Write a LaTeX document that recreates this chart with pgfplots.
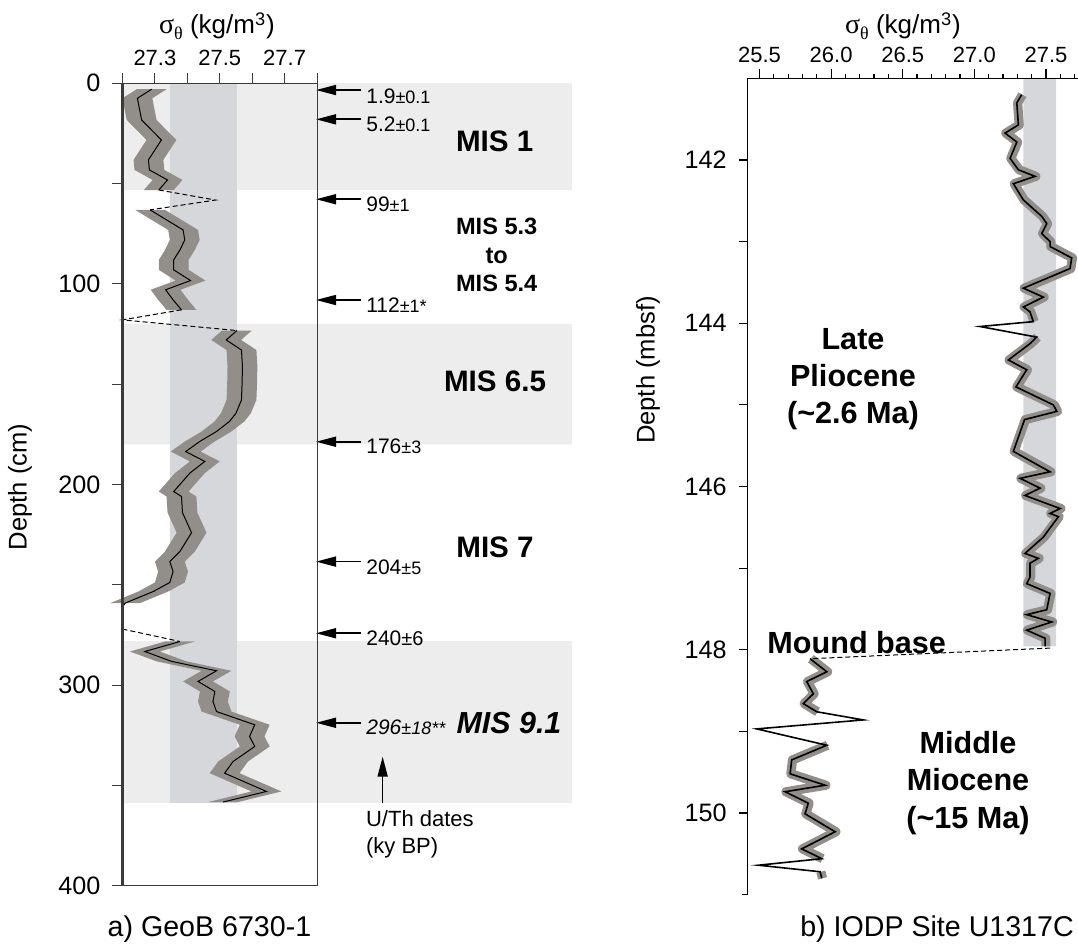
\documentclass[border=0pt]{standalone}
\usepackage{pgfplots}
\usepackage{pgfplotstable}
\pgfplotsset{compat=1.18}
\usepgfplotslibrary{fillbetween}
\usetikzlibrary{arrows.meta}
\usepackage{fontspec}
\setmainfont{Liberation Sans}
\newfontfamily\grk{Liberation Serif}

\definecolor{misgray}{HTML}{EDEDED}
\definecolor{bandblue}{HTML}{D5D7DB}
\definecolor{envgray}{HTML}{928E89}
\definecolor{framec}{HTML}{3A3A3A}

\newcommand{\fs}[1]{\fontsize{#1}{#1}\selectfont}
\newcommand{\fsl}[2]{\fontsize{#1}{#2}\selectfont}
\newcommand{\sigtitle}{{\grk\fs{14}σ}\raisebox{-0.4ex}{\grk\fs{9}θ} (kg/m\textsuperscript{3})}
\newcommand{\unc}[1]{{\fs{9}±#1}}

% GeoB 6730-1: potential density (sigma) against core depth (cm)
\pgfplotstableread{
s      d
27.290 3.1
27.246 7.6
27.259 18.4
27.320 28.4
27.280 38.3
27.283 43.3
27.339 48.3
27.312 53.3
}\segA
\pgfplotstableread{
s      d
27.285 63.2
27.336 68.2
27.387 73.2
27.392 78.2
27.377 83.2
27.358 88.1
27.358 93.1
27.410 98.4
27.333 103.0
27.356 108.0
27.382 113.0
}\segB
\pgfplotstableread{
s      d
27.553 123.3
27.520 128.0
27.567 133.0
27.570 141.0
27.569 149.5
27.567 157.9
27.550 164.5
27.530 168.6
27.490 173.6
27.438 178.6
27.395 183.6
27.454 188.5
27.408 194.3
27.358 203.5
27.382 206.0
27.385 214.0
27.413 224.0
27.377 233.4
27.346 238.4
27.356 243.4
27.346 248.8
27.295 253.3
27.208 259.1
}\segC
\pgfplotstableread{
s      d
27.377 278.2
27.269 283.2
27.351 288.1
27.490 292.8
27.433 298.1
27.485 303.1
27.479 308.1
27.490 313.1
27.608 319.7
27.592 325.5
27.608 330.5
27.541 338.0
27.515 343.8
27.644 352.9
27.510 358.2
}\segD

% IODP U1317C: sigma against depth (mbsf); e = 1 where the envelope is drawn
\pgfplotstableread{
s      d      e
27.330 141.20 1
27.296 141.30 1
27.307 141.57 1
27.214 141.67 1
27.296 141.78 1
27.249 141.98 1
27.307 142.12 1
27.423 142.20 1
27.272 142.29 1
27.342 142.49 1
27.470 142.69 1
27.505 142.78 1
27.470 142.90 1
27.528 143.00 1
27.528 143.06 1
27.679 143.20 1
27.667 143.33 1
27.505 143.45 1
27.342 143.57 1
27.481 143.68 1
27.342 143.80 1
27.388 143.86 1
27.411 143.98 1
27.039 144.04 0
27.435 144.17 1
27.388 144.25 1
27.237 144.45 1
27.365 144.57 1
27.290 144.78 1
27.551 145.00 1
27.575 145.08 1
27.350 145.18 1
27.272 145.57 1
27.528 145.82 1
27.319 145.90 1
27.458 146.02 1
27.353 146.11 1
27.598 146.27 1
27.528 146.33 1
27.586 146.37 1
27.481 146.62 1
27.353 146.82 1
27.446 146.88 1
27.388 146.94 1
27.388 147.11 1
27.365 147.19 1
27.528 147.31 1
27.505 147.51 1
27.365 147.57 1
27.540 147.66 1
27.365 147.76 1
27.493 147.86 1
27.493 147.96 1
}\rtUp
\pgfplotstableread{
s      d      e
25.853 148.11 1
25.970 148.27 1
25.830 148.39 1
25.876 148.54 1
25.806 148.66 1
25.900 148.76 1
26.225 148.86 0
25.481 148.97 0
25.970 149.17 1
25.725 149.35 1
25.714 149.52 1
25.958 149.66 1
25.679 149.74 1
25.841 149.88 1
25.818 150.01 1
26.028 150.23 1
25.795 150.44 1
25.935 150.56 1
25.493 150.64 0
25.923 150.72 1
25.935 150.80 1
}\rtLo

\pgfplotsset{
  /pgf/number format/assume math mode=true,
  depthaxis/.style={
    scale only axis, anchor=south west, y dir=reverse,
    clip=false, set layers, axis on top,
    tick align=outside,
  },
}
\tikzset{
  datenum/.style={anchor=west, inner sep=0pt, font=\fs{10.5}},
  datearrow/.style={-{Triangle[length=10pt,width=5pt]}, line width=0.85pt, black},
}

\begin{document}
\begin{tikzpicture}

% ---------- a) GeoB 6730-1 ----------
\begin{axis}[depthaxis,
  at={(61.25pt,31.5pt)}, width=97.25pt, height=401.5pt,
  xmin=27.2, xmax=27.8, ymin=0, ymax=400,
  axis line style={framec, line width=0.5pt},
  tick style={framec, line width=0.5pt},
  major tick length=5pt, minor tick length=5pt,
  xtick pos=upper, xticklabel pos=upper, ytick pos=left,
  xtick={27.3,27.5,27.7}, xticklabels={27.3,27.5,27.7},
  minor xtick={27.2,27.4,27.6,27.8},
  ytick={0,50,100,150,200,250,300,350,400},
  yticklabels={0,,100,,200,,300,,400},
  xticklabel style={font=\fs{11}},
  yticklabel style={font=\fs{12.6}, xshift=-2.5pt},
]
% marine isotope stage bands
\addplot[on layer=axis background, fill=misgray, draw=none]
  coordinates {(27.2,0) (28.586,0) (28.586,53.3) (27.2,53.3) (27.2,0)};
\addplot[on layer=axis background, fill=misgray, draw=none]
  coordinates {(27.2,120) (28.586,120) (28.586,180) (27.2,180) (27.2,120)};
\addplot[on layer=axis background, fill=misgray, draw=none]
  coordinates {(27.2,278) (28.586,278) (28.586,358.6) (27.2,358.6) (27.2,278)};
% present-day density range
\addplot[on layer=axis background, fill=bandblue, draw=none]
  coordinates {(27.346,0) (27.553,0) (27.553,358.6) (27.346,358.6) (27.346,0)};

% uncertainty envelopes
\addplot[draw=none, name path=a1] table[x expr=\thisrow{s}-0.046, y=d] {\segA};
\addplot[draw=none, name path=b1] table[x expr=\thisrow{s}+0.046, y=d] {\segA};
\addplot[fill=envgray, draw=none] fill between[of=a1 and b1];
\addplot[draw=none, name path=a2] table[x expr=\thisrow{s}-0.046, y=d] {\segB};
\addplot[draw=none, name path=b2] table[x expr=\thisrow{s}+0.046, y=d] {\segB};
\addplot[fill=envgray, draw=none] fill between[of=a2 and b2];
\addplot[draw=none, name path=a3] table[x expr=\thisrow{s}-0.046, y=d] {\segC};
\addplot[draw=none, name path=b3] table[x expr=\thisrow{s}+0.046, y=d] {\segC};
\addplot[fill=envgray, draw=none] fill between[of=a3 and b3];
\addplot[draw=none, name path=a4] table[x expr=\thisrow{s}-0.046, y=d] {\segD};
\addplot[draw=none, name path=b4] table[x expr=\thisrow{s}+0.046, y=d] {\segD};
\addplot[fill=envgray, draw=none] fill between[of=a4 and b4];

% sigma profile
\addplot[black, line width=0.5pt] table[x=s, y=d] {\segA};
\addplot[black, line width=0.5pt] table[x=s, y=d] {\segB};
\addplot[black, line width=0.5pt] table[x=s, y=d] {\segC};
\addplot[black, line width=0.5pt] table[x=s, y=d] {\segD};
% hiatus connectors
\addplot[black, line width=0.5pt, dash pattern=on 2.5pt off 1.5pt]
  coordinates {(27.312,53.3) (27.487,58.3) (27.285,63.2)};
\addplot[black, line width=0.5pt, dash pattern=on 2.5pt off 1.5pt]
  coordinates {(27.382,113) (27.2,118) (27.553,123.3)};
\addplot[black, line width=0.5pt, dash pattern=on 2.5pt off 1.5pt]
  coordinates {(27.208,259.1) (27.2,261)};
\addplot[black, line width=0.5pt, dash pattern=on 2.5pt off 1.5pt]
  coordinates {(27.2,272) (27.377,278.2)};

\draw[framec, line width=1.2pt] (rel axis cs:0,0) -- (rel axis cs:0,1);

% U/Th dates
\draw[datearrow] (axis cs:27.937,3.5) -- (axis cs:27.797,3.5);
\draw[datearrow] (axis cs:27.937,18.1) -- (axis cs:27.797,18.1);
\draw[datearrow] (axis cs:27.937,57.9) -- (axis cs:27.797,57.9);
\draw[datearrow] (axis cs:27.937,108.1) -- (axis cs:27.797,108.1);
\draw[datearrow] (axis cs:27.937,178.7) -- (axis cs:27.797,178.7);
\draw[datearrow] (axis cs:27.937,238.4) -- (axis cs:27.797,238.4);
\draw[datearrow] (axis cs:27.937,274.1) -- (axis cs:27.797,274.1);
\draw[datearrow] (axis cs:27.937,318.7) -- (axis cs:27.797,318.7);
\node[datenum] at (axis cs:27.951,6.5)   {1.9\unc{0.1}};
\node[datenum] at (axis cs:27.951,20.5)  {5.2\unc{0.1}};
\node[datenum] at (axis cs:27.951,60.5)  {99\unc{1}};
\node[datenum] at (axis cs:27.951,110.5) {112\unc{1*}};
\node[datenum] at (axis cs:27.951,181)   {176\unc{3}};
\node[datenum] at (axis cs:27.951,241)   {204\unc{5}};
\node[datenum] at (axis cs:27.951,276.5) {240{\fs{10}±6}};
\node[datenum] at (axis cs:27.951,321)   {\itshape 296\unc{18**}};
\draw[-{Triangle[length=10pt,width=5pt]}, line width=0.85pt]
  (axis cs:28.0025,358.8) -- (axis cs:28.0025,335.6);
\end{axis}

% ---------- b) IODP Site U1317C ----------
\begin{axis}[depthaxis,
  at={(373.85pt,27.2pt)}, width=165.15pt, height=408.1pt,
  xmin=25.418, xmax=27.723, ymin=141, ymax=151,
  axis x line*=top, axis y line*=left,
  axis line style={black, line width=0.6pt, -},
  tick style={black, line width=0.6pt},
  major tick length=4.5pt, minor tick length=2pt,
  xtick={25.5,26.0,26.5,27.0,27.5},
  xticklabels={25.5,26.0,26.5,27.0,27.5},
  minor xtick={25.6,25.7,25.8,25.9,26.1,26.2,26.3,26.4,26.6,26.7,26.8,26.9,27.1,27.2,27.3,27.4,27.6,27.7},
  ytick={142,143,144,145,146,147,148,149,150},
  yticklabels={142,,144,,146,,148,,150},
  xticklabel style={font=\fs{11}},
  yticklabel style={font=\fs{12.6}, xshift=-2.5pt},
]
\addplot[on layer=axis background, fill=bandblue, draw=none]
  coordinates {(27.342,141) (27.57,141) (27.57,147.96) (27.342,147.96) (27.342,141)};

\addplot[envgray, line width=4.6pt, line join=round, xshift=0.4pt,
  restrict expr to domain={\thisrow{e}}{0.5:1.5}] table[x=s, y=d] {\rtUp};
\addplot[envgray, line width=4.6pt, line join=round, xshift=0.4pt,
  restrict expr to domain={\thisrow{e}}{0.5:1.5}] table[x=s, y=d] {\rtLo};
\addplot[black, line width=0.8pt] table[x=s, y=d] {\rtUp};
\addplot[black, line width=0.8pt] table[x=s, y=d] {\rtLo};
\addplot[black, line width=0.5pt, dash pattern=on 2.5pt off 1.5pt]
  coordinates {(27.528,147.98) (25.853,148.11)};
% top axis line runs a little past the depth axis
\draw[black, line width=0.6pt] (rel axis cs:0,0) -- ++(-3pt,0pt);
\end{axis}

% ---------- titles and labels (pixel grid, origin top left) ----------
\begin{scope}[shift={(0pt,474.5pt)}, x=0.5pt, y=-0.5pt]
\node[font=\fs{13}] at (217,26) {\sigtitle};
\node[font=\fs{13}] at (903,26) {\sigtitle};
\node[font=\fs{12.8}, rotate=90] at (20,487) {Depth (cm)};
\node[font=\fs{12.8}, rotate=90] at (648,370) {Depth (mbsf)};
\node[font=\fs{14.3}] at (209.5,929) {a) GeoB 6730-1};
\node[font=\fs{14.3}] at (937,929) {b) IODP Site U1317C};

\node[font=\bfseries\fs{14.8}] at (494.7,141) {MIS 1};
\node[font=\bfseries\fsl{11.8}{14.3}, align=center] at (496.7,255)
  {MIS 5.3\\to\\MIS 5.4};
\node[font=\bfseries\fs{14.8}] at (495,381) {MIS 6.5};
\node[font=\bfseries\fs{14.8}] at (495,547) {MIS 7};
\node[font=\bfseries\itshape\fs{15.2}] at (509,723) {MIS 9.1};
\node[font=\fsl{11}{13.5}, align=left, anchor=north west, inner sep=0pt] at (365.7,810)
  {U/Th dates\\(ky BP)};

\node[font=\bfseries\fsl{15.3}{18.6}, align=center] at (853,379)
  {Late\\Pliocene\\(\textasciitilde2.6 Ma)};
\node[font=\bfseries\fs{15.3}] at (856.7,642.7) {Mound base};
\node[font=\bfseries\fsl{15.3}{18.7}, align=center] at (968,783)
  {Middle\\Miocene\\(\textasciitilde15 Ma)};
\end{scope}

\pgfresetboundingbox
\useasboundingbox (0,0) rectangle (539pt,474.5pt);
\end{tikzpicture}
\end{document}
